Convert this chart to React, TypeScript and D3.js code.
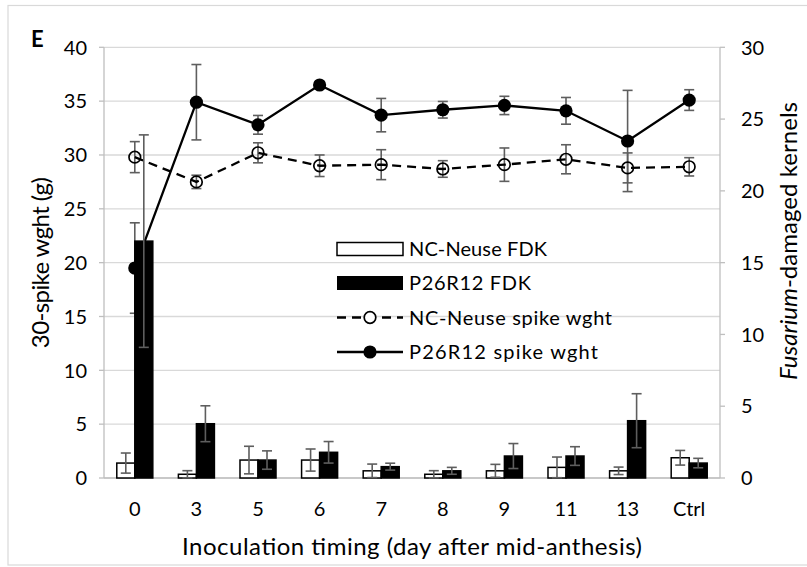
import React from "react";
import * as d3 from "d3";

// Inoculation timing categories (day after mid-anthesis)
const categories = ["0", "3", "5", "6", "7", "8", "9", "11", "13", "Ctrl"];

// Fusarium-damaged kernels (right axis)
const ncNeuseFdk = [1.04, 0.26, 1.25, 1.25, 0.5, 0.26, 0.5, 0.74, 0.5, 1.41];
const ncNeuseFdkErr = [0.7, 0.25, 0.96, 0.77, 0.47, 0.25, 0.45, 0.72, 0.26, 0.51];
const p26r12Fdk = [16.5, 3.78, 1.25, 1.79, 0.79, 0.5, 1.53, 1.53, 3.99, 1.04];
const p26r12FdkErr = [7.4, 1.25, 0.64, 0.75, 0.24, 0.24, 0.87, 0.65, 1.88, 0.33];

// 30-spike weight in grams (left axis)
const ncNeuseWght = [29.8, 27.5, 30.2, 29.0, 29.1, 28.7, 29.1, 29.6, 28.8, 28.9];
const ncNeuseWghtErr = [1.44, 0.62, 0.93, 1.0, 1.39, 0.77, 1.55, 1.35, 1.39, 0.85];
const p26r12Wght = [19.5, 34.9, 32.8, 36.5, 33.7, 34.2, 34.6, 34.1, 31.3, 35.1];
const p26r12WghtErr = [4.2, 3.5, 0.87, 0.3, 1.55, 0.77, 0.85, 1.24, 4.7, 0.96];

const leftTicks = [0, 5, 10, 15, 20, 25, 30, 35, 40];
const rightTicks = [0, 5, 10, 15, 20, 25, 30];
const barSeries = ["NC-Neuse FDK", "P26R12 FDK"];
const lineSeries = ["NC-Neuse spike wght", "P26R12 spike wght"];

const FONT = "Lato, 'Open Sans', sans-serif";
const GRID = "#d9d9d9";
const AXIS = "#bfbfbf";
const ERR = "#5e5e5e";
const DASH = "9,6";

export default function App() {
  const W = 807;
  const H = 567;
  const left = 104;
  const right = 720;
  const top = 47.3;
  const bottom = 478;

  const x = d3.scaleBand<string>().domain(categories).range([left, right]);
  const bw = x.bandwidth();
  const sub = d3
    .scaleBand<string>()
    .domain(barSeries)
    .range([0, bw])
    .paddingInner(0)
    .paddingOuter(0.71);
  const yL = d3.scaleLinear().domain([0, 40]).range([bottom, top]);
  const yR = d3.scaleLinear().domain([0, 30]).range([bottom, top]);
  const cx = (c: string) => (x(c) as number) + bw / 2;

  const lineGen = d3
    .line<number>()
    .x((_, i) => cx(categories[i]))
    .y((v) => yL(v));

  const cap = 5;
  const errBar = (xp: number, y1: number, y2: number, key: string) => (
    <g key={key} stroke={ERR} strokeWidth={1.6}>
      <line x1={xp} x2={xp} y1={y1} y2={y2} />
      <line x1={xp - cap} x2={xp + cap} y1={y1} y2={y1} />
      <line x1={xp - cap} x2={xp + cap} y1={y2} y2={y2} />
    </g>
  );

  const barData = [
    { name: barSeries[0], vals: ncNeuseFdk, errs: ncNeuseFdkErr, fill: "#ffffff" },
    { name: barSeries[1], vals: p26r12Fdk, errs: p26r12FdkErr, fill: "#000000" },
  ];

  const legendX = 337;
  const legendTextX = 409;
  const legendRows = [249, 283, 317.5, 352];
  const legendLens = [138, 122, 203, 189];

  return (
    <svg
      width={W}
      height={H}
      style={{ position: "absolute", left: 0, top: 0, background: "#fff" }}
      fontFamily={FONT}
    >
      <rect x={8} y={5.5} width={820} height={559.5} fill="#fff" stroke="#d9d9d9" strokeWidth={1.2} />

      {/* horizontal gridlines from the left axis */}
      {leftTicks.map((t) => (
        <line key={"g" + t} x1={left} x2={right} y1={yL(t)} y2={yL(t)} stroke={GRID} strokeWidth={1.3} />
      ))}

      {/* axes */}
      <line x1={left} x2={left} y1={top} y2={bottom} stroke={AXIS} strokeWidth={1.3} />
      <line x1={right} x2={right} y1={top} y2={bottom} stroke={AXIS} strokeWidth={1.3} />
      <line x1={left} x2={right} y1={bottom} y2={bottom} stroke={AXIS} strokeWidth={1.6} />
      {leftTicks.map((t) => (
        <line key={"lt" + t} x1={left - 5} x2={left} y1={yL(t)} y2={yL(t)} stroke={AXIS} strokeWidth={1.3} />
      ))}
      {rightTicks.map((t) => (
        <line key={"rt" + t} x1={right} x2={right + 5} y1={yR(t)} y2={yR(t)} stroke={AXIS} strokeWidth={1.3} />
      ))}

      {/* tick labels */}
      {leftTicks.map((t) => (
        <text key={"ll" + t} x={87} y={yL(t)} dy="0.36em" textAnchor="end" fontSize={20} fill="#000">
          {t}
        </text>
      ))}
      {rightTicks.map((t) => (
        <text key={"rl" + t} x={741} y={yR(t)} dy="0.36em" textAnchor="start" fontSize={20} fill="#000">
          {t}
        </text>
      ))}
      {categories.map((c) => (
        <text key={"xl" + c} x={cx(c)} y={516} textAnchor="middle" fontSize={20} fill="#000">
          {c}
        </text>
      ))}

      {/* axis titles */}
      <text
        x={412}
        y={555}
        textAnchor="middle"
        fontSize={24}
        fill="#000"
        textLength={460}
        lengthAdjust="spacing"
      >
        Inoculation timing (day after mid-anthesis)
      </text>
      <text
        transform={`translate(49,${(top + bottom) / 2}) rotate(-90)`}
        textAnchor="middle"
        fontSize={24}
        fill="#000"
        textLength={171}
        lengthAdjust="spacing"
      >
        30-spike wght (g)
      </text>
      <text
        transform={`translate(797,241) rotate(-90)`}
        textAnchor="middle"
        fontSize={24}
        fill="#000"
        textLength={278}
        lengthAdjust="spacing"
      >
        <tspan fontStyle="italic">Fusarium</tspan>-damaged kernels
      </text>
      <text x={31} y={47} fontSize={22} fontWeight="bold" fill="#000">
        E
      </text>

      {/* spike weight series: error bars, lines, markers */}
      {categories.map((c, i) =>
        errBar(cx(c), yL(ncNeuseWght[i] + ncNeuseWghtErr[i]), yL(ncNeuseWght[i] - ncNeuseWghtErr[i]), "ne" + c)
      )}
      {categories.map((c, i) =>
        errBar(cx(c), yL(p26r12Wght[i] + p26r12WghtErr[i]), yL(p26r12Wght[i] - p26r12WghtErr[i]), "pe" + c)
      )}
      <path d={lineGen(ncNeuseWght) || ""} fill="none" stroke="#000" strokeWidth={2.3} strokeDasharray={DASH} />
      <path d={lineGen(p26r12Wght) || ""} fill="none" stroke="#000" strokeWidth={2.3} />
      {categories.map((c, i) => (
        <circle key={"nm" + c} cx={cx(c)} cy={yL(ncNeuseWght[i])} r={5.8} fill="none" stroke="#000" strokeWidth={1.7} />
      ))}
      {categories.map((c, i) => (
        <circle key={"pm" + c} cx={cx(c)} cy={yL(p26r12Wght[i])} r={6.6} fill="#000" />
      ))}

      {/* FDK bars on the secondary axis */}
      {barData.map((s) =>
        categories.map((c, i) => {
          const bx = (x(c) as number) + (sub(s.name) as number);
          const bwid = sub.bandwidth();
          return (
            <rect
              key={s.name + c}
              x={bx}
              y={yR(s.vals[i])}
              width={bwid}
              height={bottom - yR(s.vals[i])}
              fill={s.fill}
              stroke="#000"
              strokeWidth={1.5}
            />
          );
        })
      )}
      {barData.map((s) =>
        categories.map((c, i) => {
          const bxc = (x(c) as number) + (sub(s.name) as number) + sub.bandwidth() / 2;
          return errBar(bxc, yR(s.vals[i] + s.errs[i]), yR(s.vals[i] - s.errs[i]), "be" + s.name + c);
        })
      )}

      {/* legend */}
      <rect x={legendX} y={legendRows[0] - 6.5} width={66} height={13} fill="#fff" stroke="#000" strokeWidth={1.5} />
      <rect x={legendX} y={legendRows[1] - 7} width={66} height={14} fill="#000" />
      <line
        x1={legendX}
        x2={legendX + 66}
        y1={legendRows[2]}
        y2={legendRows[2]}
        stroke="#000"
        strokeWidth={2.3}
        strokeDasharray={DASH}
      />
      <circle cx={legendX + 33} cy={legendRows[2]} r={5.8} fill="#fff" stroke="#000" strokeWidth={1.7} />
      <line x1={legendX} x2={legendX + 66} y1={legendRows[3]} y2={legendRows[3]} stroke="#000" strokeWidth={2.3} />
      <circle cx={legendX + 33} cy={legendRows[3]} r={6.6} fill="#000" />
      {[...barSeries, ...lineSeries].map((name, i) => (
        <text
          key={"lg" + name}
          x={legendTextX}
          y={legendRows[i]}
          dy="0.36em"
          fontSize={20}
          fill="#000"
          textLength={legendLens[i]}
          lengthAdjust="spacing"
        >
          {name}
        </text>
      ))}
    </svg>
  );
}
